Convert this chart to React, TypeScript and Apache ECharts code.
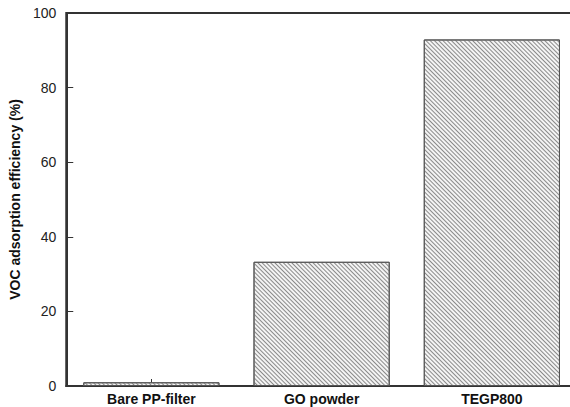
import React, { useEffect, useRef } from "react";
import * as echarts from "echarts";

const categories = ["Bare PP-filter", "GO powder", "TEGP800"];
const efficiency = [1.0, 33.3, 92.9];
const yTicks = { min: 0, max: 100, interval: 20 };
const yAxisTitle = "VOC adsorption efficiency (%)";

export default function App() {
  const ref = useRef<HTMLDivElement>(null);
  useEffect(() => {
    document.body.style.margin = "0";
    document.body.style.overflow = "hidden";
    const chart = echarts.init(ref.current!, null, { renderer: "svg" });
    const axisColor = "#333";
    const font = "Arial, 'Liberation Sans', sans-serif";
    chart.setOption({
      animation: false,
      grid: {
        left: 63,
        top: 13,
        bottom: 21,
        right: 20,
        show: true,
        borderColor: axisColor,
        borderWidth: 2,
      },
      xAxis: {
        type: "category",
        data: categories,
        axisLine: { show: true, lineStyle: { color: axisColor, width: 2 } },
        axisTick: { show: true, inside: true, alignWithLabel: true, length: 7, lineStyle: { color: axisColor } },
        axisLabel: { show: true, margin: 6, color: "#111", fontSize: 14, fontWeight: "bold", fontFamily: font },
      },
      yAxis: {
        type: "value",
        min: yTicks.min,
        max: yTicks.max,
        interval: yTicks.interval,
        name: yAxisTitle,
        nameLocation: "middle",
        nameGap: 35,
        nameTextStyle: { color: "#111", fontSize: 14, fontWeight: "bold", fontFamily: font },
        axisLine: { show: true, lineStyle: { color: axisColor, width: 2 } },
        axisTick: { show: true, inside: true, length: 7, lineStyle: { color: axisColor } },
        axisLabel: { show: true, margin: 10, color: "#222", fontSize: 14, fontFamily: font },
        splitLine: { show: true, lineStyle: { color: "rgba(0,0,0,0)" } },
      },
      series: [
        {
          type: "bar",
          data: efficiency,
          barCategoryGap: "20%",
          itemStyle: {
            color: "#f4f4f4",
            borderColor: "#555",
            borderWidth: 1,
            decal: {
              symbol: "rect",
              symbolSize: 1,
              color: "#8a8a8a",
              dashArrayX: [1, 0],
              dashArrayY: [1, 2],
              rotation: Math.PI / 4,
            },
          },
        },
      ],
    });
    return () => chart.dispose();
  }, []);
  return <div ref={ref} style={{ width: 597, height: 407 }} />;
}
